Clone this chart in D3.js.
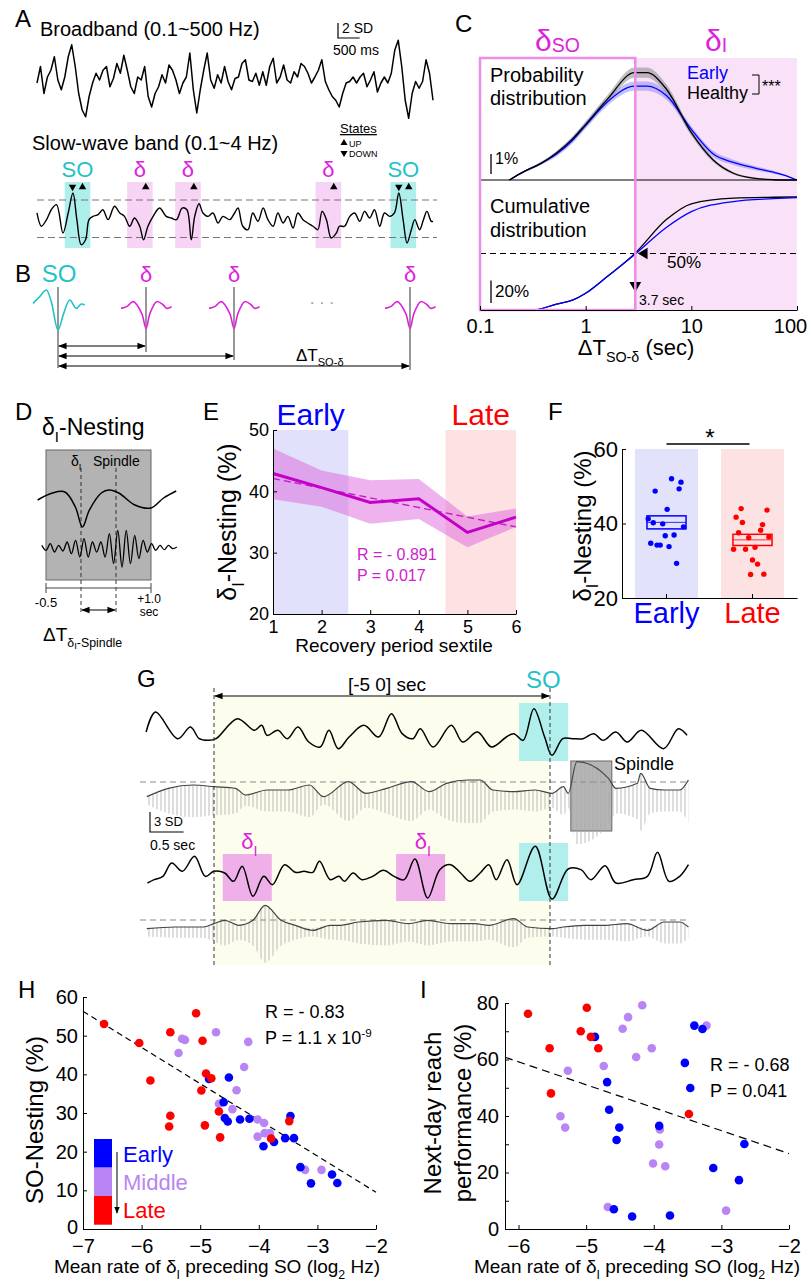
<!DOCTYPE html>
<html>
<head>
<meta charset="utf-8">
<script src="https://cdn.jsdelivr.net/npm/d3@7"></script>
<style>
  body { margin: 0; background: #fff; }
  svg { display: block; }
</style>
</head>
<body>
<script>
'use strict';

const FONT = '"Liberation Sans", Arial, sans-serif';
const CYAN = '#22c3c6';
const MAGENTA = '#dd22dd';
const BLUE = '#0000ff';
const PURPLE = '#b985f5';
const RED = '#ff0000';

// ---------- A: example traces (SD units) ----------
const broadband = [-0.4, 1.8, -1.8, 0.4, 1.3, 3.1, 0, -1.3, 0.4, 3.1, 4.7, 1.8, -1.8, -4.0, -4.9, -2.2,
  -0.4, 0.9, 0, 1.3, 1.8, -0.9, 0.2, 2.2, 0.9, 3.3, 1.3, -0.9, -1.8, 0.4, 0, 1.8, -2.2, -3.6, -1.8,
  -0.9, 0.7, -0.4, 2.0, 1.3, 0, -1.8, -0.4, 0.4, 3.6, -1.3, -4.4, -1.3, 1.3, 3.6, 0, -1.1, 0.7, -0.4,
  1.8, -0.2, -1.3, 0.2, 0.4, 2.2, 2.7, 0, -0.2, 0.9, -0.7, 1.1, -0.7, 1.8, 2.9, -0.4, 0.4, 2.0, 0,
  -0.4, 1.1, 0.4, 2.2, 1.8, 0.9, -0.4, 0.4, 1.3, 2.7, -0.2, -1.3, -2.2, -2.7, -3.6, -1.8, -0.4, -0.2,
  0.4, -0.4, 0.4, 0.9, -0.9, 0, 1.1, -1.6, -0.4, 0.4, -0.4, 0.9, 4.0, 5.3, 1.8, -2.7, -5.1, -1.8,
  -0.2, -1.1, -0.2, 2.7, 0.9, -2.7];
const traceDur = 9.14; // sec
const slowWave = [[0, 0.67], [0.10, -1.1], [0.22, -0.22], [0.33, 1.1], [0.45, 1.78], [0.60, -2], [0.72, 0.67],
  [0.83, 3.33], [0.92, -0.22], [1.02, -3.56], [1.12, -2.9], [1.20, -0.22], [1.29, 0.22], [1.41, 0.44],
  [1.52, 1.1], [1.64, -0.22], [1.79, 1.56], [1.91, 0.67], [2.02, 0.22], [2.14, -1.1], [2.25, 0],
  [2.37, -1.1], [2.46, -2.9], [2.56, -1.1], [2.68, 0.22], [2.83, 1.33], [2.98, 0.22], [3.10, 0],
  [3.22, -0.22], [3.35, 1.33], [3.46, 1.1], [3.56, -2.9], [3.64, 0.22], [3.74, 1.9], [3.83, 0.67],
  [3.95, 0.22], [4.06, 0.67], [4.18, -0.67], [4.29, 0.22], [4.45, -0.22], [4.56, 0.67], [4.64, 1.33],
  [4.75, -1.1], [4.87, -1.56], [4.98, 0.67], [5.10, -0.44], [5.22, 1.33], [5.33, -0.22], [5.45, -1.1],
  [5.56, 0.67], [5.68, -0.67], [5.79, 0.22], [5.91, -1.33], [6.02, 0.67], [6.14, -0.22], [6.25, -0.67],
  [6.37, -1.1], [6.48, -1.56], [6.58, 0.89], [6.68, -0.22], [6.79, -2.67], [6.91, -2], [6.98, -1.1],
  [7.10, -1.1], [7.22, 0.22], [7.33, 0.67], [7.45, -0.44], [7.56, 0.89], [7.68, 0], [7.79, 1.1],
  [7.91, -1.1], [8.02, 0.67], [8.14, 0.22], [8.25, 0.67], [8.35, 3.33], [8.45, -0.22], [8.54, -3.33],
  [8.64, -1.56], [8.72, -0.22], [8.83, -1.56], [8.92, -0.22], [9.0, 0.89], [9.1, -0.44], [9.14, -0.44]];
const swThresholds = [2.4, -2.6];
const eventTypes = ['SO', 'δ', 'δ', 'δ', 'SO'];
const eventStarts = [0.64, 2.08, 3.19, 6.43, 8.16];
const eventWidth = 0.59;
const upTimes = [1.05, 2.51, 3.62, 6.85, 8.58];
const downTimes = [0.82, 8.35];

// ---------- B: schematic ----------
const bEvents = ['SO', 'δ', 'δ', '…', 'δ'];
const soTemplate = [[-250, 0.33], [-183, 1.67], [-117, 3], [-67, 0.67], [0, -5], [57, -1.67], [117, 1],
  [183, -0.67], [233, 0.2], [267, 0]];
const deltaTemplate = [[-250, -0.67], [-193, -0.33], [-127, 0.67], [-43, -1.67], [0, -4.67], [40, -1.67],
  [107, 0.67], [173, 0], [207, -0.67], [257, -0.33]];
const bTargets = [1, 2, 4];

// ---------- C: SO-delta interval distributions ----------
const cProbT = [0.19, 0.26, 0.37, 0.53, 0.76, 1, 1.6, 2.9, 3.8, 5.8, 10, 16, 25, 41, 60, 74, 100];
const cHealthy = [0, 0.32, 0.62, 1.04, 1.6, 2.14, 3.1, 4.13, 4.13, 3.5, 1.82, 0.78, 0.26, 0.06, 0.01, 0, 0];
const cHealthySem = [0, 0.03, 0.05, 0.08, 0.1, 0.12, 0.15, 0.2, 0.2, 0.18, 0.12, 0.08, 0.05, 0.03, 0.01, 0, 0];
const cEarly = [0, 0.32, 0.62, 1.0, 1.55, 2.1, 3.0, 3.61, 3.61, 3.25, 1.95, 1.01, 0.68, 0.45, 0.3, 0.2, 0];
const cEarlySem = [0, 0.03, 0.05, 0.1, 0.12, 0.12, 0.15, 0.18, 0.18, 0.16, 0.12, 0.12, 0.1, 0.08, 0.06, 0.04, 0];
const cCumT = [0.1, 0.32, 0.53, 0.76, 1, 1.6, 2.9, 5.8, 10, 25, 60, 100];
const cCumHealthy = [0, 0, 5.3, 8.9, 14.8, 29.6, 49.7, 80, 94, 99, 99.8, 100];
const cCumEarly = [0, 0, 5.3, 8.9, 14.8, 29.6, 49, 73, 87, 96, 98.5, 99.5];
const cSplit = 2.95;
const cSplitLabel = '3.7 sec';

// ---------- D: nesting schematic ----------
const dSlow = [[-0.62, 0], [-0.41, 1.4], [-0.23, 1.6], [-0.08, -1.4], [0.02, -5.4], [0.12, -2], [0.29, 1.4],
  [0.40, 2], [0.54, 1.4], [0.77, -1], [1.0, -1.6], [1.18, 0.4], [1.36, 1.8]];
const dSpindle = [0.33, -0.67, 0.67, -1, 0.33, -0.8, 1, -1.33, 1.33, -2, 1.67, -2, 1, -1, 1, -2, 2.67,
  -3.33, 3.33, -4, 3.33, -3.33, 2.33, -2.33, 1.33, -1, 0.67, -0.67, 0.33, -0.53, 0.33, -0.33, 0];
const dSpindleSpan = [-0.56, 1.37];
const dWindow = [-0.5, 1.0];
const dMarks = [0, 0.5];

// ---------- E: nesting by sextile ----------
const eSextile = [1, 2, 3, 4, 5, 6];
const eMean = [42.9, 40.6, 38.2, 38.8, 33.3, 35.8];
const eUpper = [47.0, 43.4, 41.8, 42.0, 35.9, 37.2];
const eLower = [38.7, 37.5, 34.7, 35.5, 30.9, 34.2];
const eFit = [42.1, 34.2];
const eEarlySpan = [1, 2.55];
const eLateSpan = [4.55, 6];

// ---------- F: early vs late ----------
const fGroups = ['Early', 'Late'];
const fEarly = [52.0, 51.1, 48.7, 49.3, 43.8, 41.3, 40.2, 39.9, 39.1, 36.7, 36.9, 34.7, 34.2, 34.2, 33.8, 29.3];
const fEarlyJit = [0.08, 0.23, -0.18, 0.2, 0.01, -0.29, -0.21, -0.06, 0.27, -0.02, 0.12, -0.25, -0.15, -0.1, 0.04, 0.16];
const fLate = [44.0, 41.7, 40.3, 43.6, 39.7, 37.5, 36.2, 38.2, 36.4, 33.1, 33.1, 33.6, 30.2, 29.1, 26.3, 26.4];
const fLateJit = [-0.18, -0.26, -0.16, 0.23, 0.16, -0.22, -0.06, 0.13, 0.26, -0.3, -0.11, 0.04, 0, 0.08, -0.03, 0.18];
const fMean = [40.3, 35.6];
const fSem = [1.75, 1.5];

// ---------- G: example SO with preceding delta ----------
const g1Trace = [[-6.01, 0.75], [-5.87, 3.75], [-5.54, -0.25], [-5.35, 1.5], [-5.22, -0.25], [-5.08, -0.5],
  [-4.97, -0.25], [-4.65, 2.75], [-4.40, 1], [-4.29, 1.75], [-4.21, 0.25], [-4.05, 1], [-3.91, -0.25],
  [-3.75, 1.5], [-3.59, -0.75], [-3.42, -1.5], [-3.29, 1], [-3.15, -1.75], [-2.99, 0], [-2.77, 1.75],
  [-2.55, 0], [-2.36, 3.5], [-2.20, 0.5], [-2.04, -0.25], [-1.93, 1.25], [-1.74, -1.5], [-1.47, 1.75],
  [-1.30, -0.75], [-1.08, 0.75], [-0.87, -1.5], [-0.65, 0], [-0.54, 0.5], [-0.40, -0.5], [-0.24, 4.25],
  [-0.08, 0], [0.03, -2.75], [0.19, -0.25], [0.33, -0.25], [0.49, -0.25], [0.65, 0.5], [0.79, -0.5],
  [0.98, 0.75], [1.15, -0.75], [1.36, 1], [1.69, -1.75], [1.91, 1.25], [2.04, 0.25]];
const g2Env = [[-6.0, 0.5], [-5.68, 1.75], [-5.31, 2.25], [-5.0, 2], [-4.68, 1.75], [-4.53, 0.75], [-4.21, 1.5],
  [-3.9, 1.5], [-3.58, 2.25], [-3.37, 0.5], [-3.0, 2.75], [-2.74, 1], [-2.43, 1.75], [-2.06, 2.75],
  [-1.8, 1.25], [-1.54, 2.5], [-1.22, 3], [-1.04, 3], [-0.85, 1.5], [-0.54, 1.25], [-0.22, 1.5], [0.03, 1],
  [0.2, 2], [0.27, 1], [0.4, 5.75], [0.87, 3.25], [0.98, 1.75], [1.3, 2.5], [1.35, 4], [1.49, 1.75],
  [1.7, 1.5], [1.93, 1.5], [2.06, 3]];
const g3Trace = [[-5.99, -1.5], [-5.89, -1], [-5.76, -0.5], [-5.63, 1.5], [-5.47, 0.25], [-5.29, 2.5],
  [-5.13, -0.5], [-5.00, 0.25], [-4.84, 0], [-4.71, -1.25], [-4.58, 1], [-4.42, -3.5], [-4.26, -0.5],
  [-4.13, -1.75], [-3.95, 1.25], [-3.79, 0.1], [-3.66, 0.25], [-3.53, 0.1], [-3.43, 1.75], [-3.27, -1],
  [-3.14, -0.5], [-3.06, -1.25], [-2.93, 0], [-2.80, -1], [-2.64, -0.5], [-2.48, 0.4], [-2.32, -0.5],
  [-2.17, -1], [-2.01, 2.1], [-1.82, -3.75], [-1.64, 0.5], [-1.48, 1.25], [-1.33, 0], [-1.19, -1.25],
  [-1.04, 0], [-0.91, 1.25], [-0.80, -1], [-0.64, 2], [-0.49, -1.75], [-0.22, 4], [0.03, -3.9], [0.27, 0.6],
  [0.46, 0.5], [0.61, -1], [0.82, 1.1], [0.98, -1.5], [1.24, -1], [1.45, -0.5], [1.60, 3.1], [1.77, -1.25],
  [1.93, -0.5], [2.06, 1.25]];
const g4Env = [[-6.0, 0.5], [-5.58, 0.75], [-5.16, 0.75], [-5.0, 1.25], [-4.84, 1.75], [-4.63, 1], [-4.42, 1.75],
  [-4.24, 4], [-4.0, 1.75], [-3.79, 1], [-3.53, 0.25], [-3.27, 1], [-3.14, 1], [-2.85, 1.5], [-2.43, 1.75],
  [-2.11, 1.25], [-1.82, 1.75], [-1.48, 1.25], [-1.12, 1.25], [-0.91, 1], [-0.54, 2], [-0.33, 0.75],
  [0.03, 0.5], [0.2, 0.75], [0.51, 1], [0.82, 1], [1.14, 1.25], [1.45, 0.25], [1.7, 1.5], [1.93, 1.5], [2.06, 0.75]];
const gWindow = [-5, 0];
const gSO = [-0.46, 0.27];
const gDeltaI = [[-4.87, -4.14], [-2.29, -1.56]];
const gSpindle = [0.31, 0.92];

// ---------- H / I: scatter ----------
const hRed = [[-6.64, 53.0], [-6.04, 48.1], [-5.85, 38.4], [-5.51, 50.9], [-5.51, 29.3], [-5.53, 26.5],
  [-5.07, 55.8], [-4.96, 48.7], [-4.98, 35.8], [-4.90, 40.2], [-4.81, 39.0], [-4.92, 26.8], [-4.68, 30.4],
  [-4.66, 23.7], [-3.79, 23.4], [-3.48, 27.9]];
const hBlue = [[-4.85, 38.8], [-4.51, 39.2], [-4.60, 32.8], [-4.58, 28.7], [-4.53, 27.8], [-4.32, 28.3],
  [-4.16, 28.5], [-3.92, 21.4], [-3.74, 22.5], [-3.55, 23.5], [-3.40, 23.5], [-3.46, 29.2], [-3.29, 16.0],
  [-3.11, 11.8], [-2.75, 14.1], [-2.66, 11.9]];
const hPurple = [[-5.31, 49.2], [-5.26, 48.9], [-5.37, 45.5], [-4.73, 50.9], [-4.18, 48.4], [-4.25, 41.9],
  [-4.38, 35.9], [-4.68, 32.4], [-4.45, 31.0], [-4.02, 28.3], [-3.91, 27.4], [-4.02, 23.9], [-3.90, 24.8],
  [-3.81, 24.8], [-3.21, 15.3], [-2.93, 15.3]];
const hFit = [[-7, 56.3], [-2, 9.5]];
const iRed = [[-5.86, 76.2], [-5.54, 64.0], [-5.52, 48.0], [-4.99, 78.3], [-5.08, 70.0], [-4.93, 68.0],
  [-4.82, 64.0], [-3.48, 40.7]];
const iBlue = [[-4.87, 68.0], [-3.54, 58.8], [-3.46, 49.9], [-3.40, 72.0], [-3.28, 70.8], [-4.69, 52.0],
  [-4.66, 42.2], [-4.51, 35.9], [-4.55, 31.5], [-3.92, 36.5], [-2.66, 30.1], [-3.12, 21.6], [-2.74, 17.3],
  [-4.59, 7.0], [-4.32, 4.4], [-3.76, 4.8]];
const iPurple = [[-5.27, 56.0], [-5.38, 39.9], [-5.31, 35.9], [-4.74, 57.7], [-4.46, 70.9], [-4.38, 75.0],
  [-4.17, 79.2], [-4.26, 60.9], [-4.03, 64.0], [-3.22, 72.0], [-3.91, 35.2], [-3.92, 29.9], [-4.01, 23.2],
  [-3.83, 22.2], [-4.68, 7.8], [-2.93, 6.5]];
const iFit = [[-6.2, 60.8], [-2, 26.7]];
const stageNames = ['Early', 'Middle', 'Late'];
const stageColors = [BLUE, PURPLE, RED];

// ======================================================================
const svg = d3.select('body').append('svg')
  .attr('width', 811).attr('height', 1282)
  .attr('font-family', FONT);

const defs = svg.append('defs');
defs.append('marker').attr('id', 'arr')
  .attr('viewBox', '0 0 10 10').attr('refX', 9).attr('refY', 5)
  .attr('markerWidth', 7).attr('markerHeight', 7)
  .attr('orient', 'auto-start-reverse')
  .append('path').attr('d', 'M0,1L10,5L0,9z').attr('fill', '#000');
const pat = defs.append('pattern').attr('id', 'carrier')
  .attr('patternUnits', 'userSpaceOnUse').attr('width', 4).attr('height', 10);
pat.append('line').attr('x1', 1).attr('x2', 1).attr('y1', 0).attr('y2', 10)
  .attr('stroke', '#a9a9a9').attr('stroke-width', 0.8);

function txt(x, y, s, size, fill = '#000', anchor = 'start') {
  return svg.append('text').attr('x', x).attr('y', y).attr('font-size', size)
    .attr('fill', fill).attr('text-anchor', anchor).text(s);
}

// parts: [string, level]; 0 normal, 1 subscript, 2 sub-subscript, 3 low-offset subscript, -1 superscript
function rich(x, y, parts, size, fill = '#000', anchor = 'start', transform = null) {
  const t = svg.append('text').attr('x', x).attr('y', y).attr('font-size', size)
    .attr('fill', fill).attr('text-anchor', anchor);
  if (transform) t.attr('transform', transform);
  let cur = 0;
  for (const [s, lvl] of parts) {
    const off = lvl === 1 ? size * 0.3 : lvl === 2 ? size * 0.42 : lvl === 3 ? size * 0.04
      : lvl === -1 ? -size * 0.4 : 0;
    const fs = lvl === 0 ? size : lvl === 2 ? size * 0.5 : size * 0.65;
    t.append('tspan').attr('dy', off - cur).attr('font-size', fs).text(s);
    cur = off;
  }
  return t;
}

function vlabel(cx, cy, parts, size) {
  return rich(0, 0, parts, size, '#000', 'middle', `translate(${cx},${cy}) rotate(-90)`);
}

function styleAxis(g, size) {
  g.attr('font-family', FONT).attr('font-size', size);
  g.selectAll('.domain').attr('stroke', '#000');
  g.selectAll('.tick line').attr('stroke', '#000');
  g.selectAll('.tick text').attr('fill', '#000');
  return g;
}

function hline(x1, x2, y, stroke = '#000', dash = null, w = 1) {
  const l = svg.append('line').attr('x1', x1).attr('x2', x2).attr('y1', y).attr('y2', y)
    .attr('stroke', stroke).attr('stroke-width', w);
  if (dash) l.attr('stroke-dasharray', dash);
  return l;
}
function vline(x, y1, y2, stroke = '#000', dash = null, w = 1) {
  const l = svg.append('line').attr('x1', x).attr('x2', x).attr('y1', y1).attr('y2', y2)
    .attr('stroke', stroke).attr('stroke-width', w);
  if (dash) l.attr('stroke-dasharray', dash);
  return l;
}

// panel letters
[['A', 15, 27], ['B', 15, 282], ['C', 455, 32], ['D', 15, 420], ['E', 203, 420],
 ['F', 548, 420], ['G', 137, 687], ['H', 18, 998], ['I', 420, 998]]
  .forEach(([s, x, y]) => txt(x, y, s, 24));

// ======================= A =======================
const xA = d3.scaleLinear().domain([0, traceDur]).range([37, 433]);
const yBB = d3.scaleLinear().domain([-1, 1]).range([87.5, 72.5]);
const ySW = d3.scaleLinear().domain([-1, 1]).range([225.5, 210.5]);

txt(40, 36, 'Broadband (0.1~500 Hz)', 20);
const xBB = d3.scaleLinear().domain([0, broadband.length - 1]).range(xA.range());
svg.append('path').datum(broadband)
  .attr('d', d3.line().x((d, i) => xBB(i)).y(d => yBB(d)))
  .attr('fill', 'none').attr('stroke', '#000').attr('stroke-width', 1.5).attr('stroke-linejoin', 'round');

// scale bar
const sbx = 338, sby = 38;
svg.append('path')
  .attr('d', `M${sbx},${yBB(2) - yBB(0) + sby}V${sby}H${sbx + xA(0.5) - xA(0)}`)
  .attr('fill', 'none').attr('stroke', '#000').attr('stroke-width', 1.2);
txt(342, 33, '2 SD', 14);
txt(333, 55, '500 ms', 14);

txt(32, 150, 'Slow-wave band (0.1~4 Hz)', 20);
txt(340, 133, 'States', 13).attr('text-decoration', 'underline');
svg.append('path').attr('d', d3.symbol(d3.symbolTriangle, 22)()).attr('transform', 'translate(344,143)');
txt(349, 147, 'UP', 9);
svg.append('path').attr('d', d3.symbol(d3.symbolTriangle, 22)()).attr('transform', 'translate(344,153) rotate(180)');
txt(349, 157, 'DOWN', 9);

eventStarts.forEach((s, i) => {
  const so = eventTypes[i] === 'SO';
  svg.append('rect').attr('x', xA(s)).attr('y', 182)
    .attr('width', xA(s + eventWidth) - xA(s)).attr('height', 66)
    .attr('fill', so ? '#aeefec' : '#f7d3f5');
  txt(xA(s + eventWidth / 2), 177, eventTypes[i], 22, so ? CYAN : MAGENTA, 'middle');
});
upTimes.forEach(t => svg.append('path').attr('d', d3.symbol(d3.symbolTriangle, 24)())
  .attr('transform', `translate(${xA(t)},187)`));
downTimes.forEach(t => svg.append('path').attr('d', d3.symbol(d3.symbolTriangle, 24)())
  .attr('transform', `translate(${xA(t)},187) rotate(180)`));
swThresholds.forEach(v => hline(37, 437, ySW(v), '#777', '7,4', 1.1));
svg.append('path').datum(slowWave)
  .attr('d', d3.line().x(d => xA(d[0])).y(d => ySW(d[1])).curve(d3.curveCatmullRom))
  .attr('fill', 'none').attr('stroke', '#000').attr('stroke-width', 1.4);

// ======================= B =======================
const xB = d3.scalePoint().domain(d3.range(bEvents.length)).range([58, 410]);
const xWave = d3.scaleLinear().domain([0, 100]).range([0, 10]);
const yWave = d3.scaleLinear().domain([0, 1]).range([305, 300]);
const lineEnds = [368, 352, 360, null, 370];
bEvents.forEach((e, i) => {
  const cx = xB(i);
  if (e === '…') {
    txt(cx, 308, '· · ·', 16, '#999', 'middle');
    return;
  }
  const so = e === 'SO';
  txt(cx + (so ? 1 : 0), 282, e, so ? 24 : 22, so ? CYAN : MAGENTA, 'middle');
  vline(cx, 287, lineEnds[i], '#333', null, 1);
  svg.append('path').datum(so ? soTemplate : deltaTemplate)
    .attr('d', d3.line().x(d => cx + xWave(d[0])).y(d => yWave(d[1])).curve(d3.curveCatmullRom))
    .attr('fill', 'none').attr('stroke', so ? CYAN : MAGENTA).attr('stroke-width', 1.6);
});
bTargets.forEach((k, j) => {
  svg.append('line').attr('x1', xB(0) + 1).attr('x2', xB(k) - 1)
    .attr('y1', 346 + j * 10).attr('y2', 346 + j * 10)
    .attr('stroke', '#000').attr('stroke-width', 1.2)
    .attr('marker-start', 'url(#arr)').attr('marker-end', 'url(#arr)');
});
rich(296, 361, [['ΔT', 0], ['SO-δ', 1]], 17);

// ======================= C =======================
const xC = d3.scaleLog().domain([0.1, 100]).range([480, 797]);
const yP = d3.scaleLinear().domain([0, 4.5]).range([180, 63]);
const yCum = d3.scaleLinear().domain([0, 100]).range([310, 197]);
const cTop = 58, cBot = 310;

svg.append('rect').attr('x', xC(cSplit)).attr('y', cTop)
  .attr('width', xC(100) - xC(cSplit)).attr('height', cBot - cTop).attr('fill', '#f9e1f8');
rich(535, 51, [['δ', 0], ['SO', 3]], 30, MAGENTA);
rich(705, 51, [['δ', 0], ['I', 3]], 30, MAGENTA);

const probArea = (vals, sem) => d3.area()
  .x((d, i) => xC(cProbT[i]))
  .y0((d, i) => yP(Math.max(0, vals[i] - sem[i])))
  .y1((d, i) => yP(vals[i] + sem[i]))
  .curve(d3.curveMonotoneX)(vals);
const probLine = vals => d3.line().x((d, i) => xC(cProbT[i])).y(d => yP(d)).curve(d3.curveMonotoneX)(vals);
svg.append('path').attr('d', probArea(cHealthy, cHealthySem)).attr('fill', '#8c8c8c').attr('opacity', 0.55);
svg.append('path').attr('d', probArea(cEarly, cEarlySem)).attr('fill', '#7d7df0').attr('opacity', 0.45);
svg.append('path').attr('d', probLine(cEarly)).attr('fill', 'none').attr('stroke', BLUE).attr('stroke-width', 1.3);
svg.append('path').attr('d', probLine(cHealthy)).attr('fill', 'none').attr('stroke', '#000').attr('stroke-width', 1.3);

const cumLine = vals => d3.line().x((d, i) => xC(cCumT[i])).y(d => yCum(d)).curve(d3.curveMonotoneX)(vals);
svg.append('path').attr('d', cumLine(cCumHealthy)).attr('fill', 'none').attr('stroke', '#000').attr('stroke-width', 1.3);
svg.append('path').attr('d', cumLine(cCumEarly)).attr('fill', 'none').attr('stroke', BLUE).attr('stroke-width', 1.3);

hline(480, 797, 180, '#000', null, 1);
hline(480, 797, yCum(50), '#000', '6,4', 1.2);
vline(xC(cSplit), cTop, yCum(50), '#000', '6,4', 1.2);
vline(xC(cSplit), yCum(50), cBot, '#000', null, 1.2);
svg.append('path').attr('d', d3.symbol(d3.symbolTriangle, 60)())
  .attr('transform', `translate(${xC(cSplit)},${yCum(50) + 32}) rotate(180)`);
svg.append('path').attr('d', d3.symbol(d3.symbolTriangle, 55)())
  .attr('transform', `translate(${xC(cSplit) + 9},${yCum(50)}) rotate(-90)`);
svg.append('rect').attr('x', 480).attr('y', cTop)
  .attr('width', xC(cSplit) - 480).attr('height', cBot - cTop)
  .attr('fill', 'none').attr('stroke', '#ee8de9').attr('stroke-width', 2.5);

txt(490, 82, 'Probability', 20);
txt(490, 105, 'distribution', 20);
txt(490, 213, 'Cumulative', 20);
txt(490, 237, 'distribution', 20);
txt(687, 79, 'Early', 18, BLUE);
txt(687, 99, 'Healthy', 18);
svg.append('path').attr('d', 'M752,75H759V94H752').attr('fill', 'none').attr('stroke', '#000');
txt(762, 92, '***', 16);
vline(491, yP(1), yP(0) - 6, '#000', null, 1.3);
txt(495, 164, '1%', 16);
vline(491, yCum(0) - 7 - (yCum(0) - yCum(20)), yCum(0) - 7, '#000', null, 1.3);
txt(495, 297, '20%', 17);
txt(667, 268, '50%', 17);
txt(639, 305, cSplitLabel, 14);

const cAxis = svg.append('g').attr('transform', `translate(0,${cBot})`)
  .call(d3.axisBottom(xC).tickValues([0.1, 1, 10, 100]).tickFormat(d3.format('~g'))
    .tickSize(-4).tickSizeOuter(0).tickPadding(9));
styleAxis(cAxis, 20);
cAxis.selectAll('.tick text').filter(d => d === 100).attr('dx', -7);
rich(636, 355, [['ΔT', 0], ['SO-δ', 1], [' (sec)', 0]], 22, '#000', 'middle');

// ======================= D =======================
const xD = d3.scaleLinear().domain(dWindow).range([46, 151]);
const yD1 = d3.scaleLinear().domain([0, 1]).range([500, 495]);
const yD2 = d3.scaleLinear().domain([0, 1]).range([547, 542]);
rich(42, 435, [['δ', 0], ['I', 1], ['-Nesting', 0]], 23);
svg.append('rect').attr('x', xD(dWindow[0])).attr('y', 450)
  .attr('width', xD(dWindow[1]) - xD(dWindow[0])).attr('height', 130)
  .attr('fill', '#b3b3b3').attr('stroke', '#666').attr('stroke-width', 1);
dMarks.forEach(t => vline(xD(t), 468, 615, '#222', '4,3', 0.9));
rich(71, 466, [['δ', 0], ['I', 1]], 14);
txt(93, 466, 'Spindle', 14);
svg.append('path').datum(dSlow)
  .attr('d', d3.line().x(d => xD(d[0])).y(d => yD1(d[1])).curve(d3.curveCatmullRom))
  .attr('fill', 'none').attr('stroke', '#000').attr('stroke-width', 1.5);
const xDs = d3.scaleLinear().domain([0, dSpindle.length - 1]).range(dSpindleSpan.map(xD));
svg.append('path').datum(dSpindle)
  .attr('d', d3.line().x((d, i) => xDs(i)).y(d => yD2(d)).curve(d3.curveCatmullRom))
  .attr('fill', 'none').attr('stroke', '#000').attr('stroke-width', 1.3);
hline(xD(dWindow[0]), xD(dWindow[1]), 588, '#444', null, 1);
dWindow.forEach(t => vline(xD(t), 583, 593, '#444', null, 1));
txt(xD(dWindow[0]), 607, '-0.5', 13, '#000', 'middle');
txt(xD(dWindow[1]) - 2, 603, '+1.0', 12, '#000', 'middle');
txt(xD(dWindow[1]) - 2, 616, 'sec', 12, '#000', 'middle');
svg.append('line').attr('x1', xD(dMarks[0]) + 1).attr('x2', xD(dMarks[1]) - 1)
  .attr('y1', 610).attr('y2', 610).attr('stroke', '#000').attr('stroke-width', 1.2)
  .attr('marker-start', 'url(#arr)').attr('marker-end', 'url(#arr)');
rich(43, 641, [['ΔT', 0], ['δ', 1], ['I', 2], ['-Spindle', 1]], 19);

// ======================= E =======================
const xE = d3.scaleLinear().domain([1, 6]).range([273, 516]);
const yE = d3.scaleLinear().domain([20, 50]).range([614, 430]);
svg.append('rect').attr('x', xE(eEarlySpan[0])).attr('y', yE(50))
  .attr('width', xE(eEarlySpan[1]) - xE(eEarlySpan[0])).attr('height', yE(20) - yE(50)).attr('fill', '#e1e1fb');
svg.append('rect').attr('x', xE(eLateSpan[0])).attr('y', yE(50))
  .attr('width', xE(eLateSpan[1]) - xE(eLateSpan[0])).attr('height', yE(20) - yE(50)).attr('fill', '#fde1e3');
txt((xE(eEarlySpan[0]) + xE(eEarlySpan[1])) / 2, 425, 'Early', 30, BLUE, 'middle');
txt((xE(eLateSpan[0]) + xE(eLateSpan[1])) / 2, 425, 'Late', 30, RED, 'middle');
svg.append('path').datum(eSextile)
  .attr('d', d3.area().x(d => xE(d)).y0((d, i) => yE(eLower[i])).y1((d, i) => yE(eUpper[i])))
  .attr('fill', '#dd66dd').attr('opacity', 0.5);
svg.append('line').attr('x1', xE(1)).attr('x2', xE(6)).attr('y1', yE(eFit[0])).attr('y2', yE(eFit[1]))
  .attr('stroke', '#c41cc8').attr('stroke-width', 1.4).attr('stroke-dasharray', '7,4');
svg.append('path').datum(eSextile)
  .attr('d', d3.line().x(d => xE(d)).y((d, i) => yE(eMean[i])))
  .attr('fill', 'none').attr('stroke', '#c400c8').attr('stroke-width', 3);
const eX = svg.append('g').attr('transform', `translate(0,${yE(20)})`)
  .call(d3.axisBottom(xE).ticks(6).tickFormat(d3.format('d')).tickSize(-4).tickSizeOuter(0).tickPadding(6));
styleAxis(eX, 18);
const eY = svg.append('g').attr('transform', `translate(${xE(1)},0)`)
  .call(d3.axisLeft(yE).tickValues([20, 30, 40, 50]).tickSize(-4).tickSizeOuter(0).tickPadding(4));
styleAxis(eY, 18);
txt(394, 652, 'Recovery period sextile', 19, '#000', 'middle');
vlabel(236, 522, [['δ', 0], ['I', 1], ['-Nesting (%)', 0]], 25);
txt(357, 560, 'R = - 0.891', 16, '#cc22cc');
txt(357, 581, 'P = 0.017', 16, '#cc22cc');

// ======================= F =======================
const xF = d3.scaleBand().domain(fGroups).range([622, 797]).paddingInner(0.267).paddingOuter(0.151);
const yF = d3.scaleLinear().domain([20, 60]).range([598, 449]);
const fVals = [fEarly, fLate], fJit = [fEarlyJit, fLateJit];
const fCol = [BLUE, RED], fBg = ['#e2e2fb', '#fde2e4'];
fGroups.forEach((g, k) => {
  const x0 = xF(g), bw = xF.bandwidth(), cx = x0 + bw / 2;
  svg.append('rect').attr('x', x0).attr('y', yF(60)).attr('width', bw).attr('height', yF(20) - yF(60)).attr('fill', fBg[k]);
  svg.append('rect').attr('x', cx - bw * 0.31).attr('y', yF(fMean[k] + fSem[k]))
    .attr('width', bw * 0.62).attr('height', yF(fMean[k] - fSem[k]) - yF(fMean[k] + fSem[k]))
    .attr('fill', 'none').attr('stroke', fCol[k]).attr('stroke-width', 1.5);
  hline(cx - bw * 0.31, cx + bw * 0.31, yF(fMean[k]), fCol[k], null, 0.8);
  svg.append('g').selectAll('circle').data(fVals[k]).join('circle')
    .attr('cx', (d, i) => cx + fJit[k][i] * bw).attr('cy', d => yF(d)).attr('r', 2.7).attr('fill', fCol[k]);
  txt(cx, 623, g, 29, fCol[k], 'middle');
});
const fX = svg.append('g').attr('transform', `translate(0,${yF(20)})`)
  .call(d3.axisBottom(xF).tickFormat(() => '').tickSize(-4).tickSizeOuter(0));
styleAxis(fX, 12);
fX.selectAll('.tick').attr('transform', d => `translate(${xF(d) + xF.bandwidth() / 2},0)`);
const fY = svg.append('g').attr('transform', 'translate(622,0)')
  .call(d3.axisLeft(yF).tickValues([20, 40, 60]).tickSize(-4).tickSizeOuter(0).tickPadding(4));
styleAxis(fY, 22);
hline(xF('Early') + xF.bandwidth() / 2, xF('Late') + xF.bandwidth() / 2 - 3, 444, '#000', null, 1.3);
txt(710, 446, '*', 24, '#000', 'middle');
vlabel(591, 526, [['δ', 0], ['I', 1], ['-Nesting (%)', 0]], 24);

// ======================= G =======================
const xG = d3.scaleLinear().domain(gWindow).range([214, 550]);
const sdG = 6.67;
const gTop = 697, gBottom = 965;
svg.append('rect').attr('x', xG(gWindow[0])).attr('y', gTop)
  .attr('width', xG(gWindow[1]) - xG(gWindow[0])).attr('height', gBottom - gTop).attr('fill', '#fdfdee');
[[703, 761], [843, 901]].forEach(([a, b]) => svg.append('rect')
  .attr('x', xG(gSO[0])).attr('y', a).attr('width', xG(gSO[1]) - xG(gSO[0])).attr('height', b - a)
  .attr('fill', '#b0efec'));
gDeltaI.forEach(([a, b]) => {
  svg.append('rect').attr('x', xG(a)).attr('y', 854).attr('width', xG(b) - xG(a)).attr('height', 47)
    .attr('fill', '#efb0ea');
  rich(xG((a + b) / 2) - 6, 849, [['δ', 0], ['I', 1]], 22, MAGENTA);
});
svg.append('rect').attr('x', xG(gSpindle[0])).attr('y', 761)
  .attr('width', xG(gSpindle[1]) - xG(gSpindle[0])).attr('height', 70)
  .attr('fill', '#b5b5b5').attr('stroke', '#666').attr('stroke-width', 1);
txt(614, 770, 'Spindle', 18);
hline(140, 690, 782, '#888', '6,4', 1);
hline(140, 690, 920, '#888', '6,4', 1);

function slowTrace(data, center) {
  svg.append('path').datum(data)
    .attr('d', d3.line().x(d => xG(d[0])).y(d => center - d[1] * sdG).curve(d3.curveCatmullRom))
    .attr('fill', 'none').attr('stroke', '#000').attr('stroke-width', 1.5);
}
function spindleTrace(env, center) {
  // band-passed carrier drawn as a hatched envelope, envelope line on top
  svg.append('path').datum(env)
    .attr('d', d3.area().x(d => xG(d[0]))
      .y0(d => center + Math.max(d[1], 0.6) * sdG * 1.15)
      .y1(d => center - Math.max(d[1], 0.6) * sdG)
      .curve(d3.curveMonotoneX))
    .attr('fill', 'url(#carrier)');
  svg.append('path').datum(env)
    .attr('d', d3.line().x(d => xG(d[0])).y(d => center - d[1] * sdG).curve(d3.curveMonotoneX))
    .attr('fill', 'none').attr('stroke', '#444').attr('stroke-width', 1.2);
}
slowTrace(g1Trace, 737);
spindleTrace(g2Env, 800);
slowTrace(g3Trace, 873);
spindleTrace(g4Env, 932);

gWindow.forEach(t => vline(xG(t), 688, gBottom, '#333', '4,3', 1));
svg.append('line').attr('x1', xG(gWindow[0]) + 1).attr('x2', xG(gWindow[1]) - 1)
  .attr('y1', 696).attr('y2', 696).attr('stroke', '#000').attr('stroke-width', 1.2)
  .attr('marker-start', 'url(#arr)').attr('marker-end', 'url(#arr)');
txt(387, 691, '[-5 0] sec', 19, '#000', 'middle');
txt(xG(-0.1), 688, 'SO', 24, CYAN, 'middle');
svg.append('path').attr('d', `M150,${832 - 3 * sdG}V832H${150 + xG(0.5) - xG(0)}`)
  .attr('fill', 'none').attr('stroke', '#000').attr('stroke-width', 1.1);
txt(154, 826, '3 SD', 13);
txt(150, 850, '0.5 sec', 14);

// ======================= H =======================
const xH = d3.scaleLinear().domain([-7, -2]).range([83, 376]);
const yH = d3.scaleLinear().domain([0, 60]).range([1229, 997]);
const hX = svg.append('g').attr('transform', `translate(0,${yH(0)})`)
  .call(d3.axisBottom(xH).ticks(5).tickSize(-4).tickSizeOuter(0).tickPadding(10).tickFormat(d3.format('d')));
styleAxis(hX, 20);
const hY = svg.append('g').attr('transform', `translate(${xH(-7)},0)`)
  .call(d3.axisLeft(yH).tickValues(d3.range(0, 61, 10)).tickSize(-4).tickSizeOuter(0).tickPadding(5));
styleAxis(hY, 20);
hY.selectAll('.tick text').filter(d => d === 0).attr('dy', '0.2em');
svg.append('line').attr('x1', xH(hFit[0][0])).attr('y1', yH(hFit[0][1]))
  .attr('x2', xH(hFit[1][0])).attr('y2', yH(hFit[1][1]))
  .attr('stroke', '#000').attr('stroke-width', 1.2).attr('stroke-dasharray', '6,4');
[[hPurple, PURPLE], [hBlue, BLUE], [hRed, RED]].forEach(([pts, c]) =>
  svg.append('g').selectAll('circle').data(pts).join('circle')
    .attr('cx', d => xH(d[0])).attr('cy', d => yH(d[1])).attr('r', 4.3).attr('fill', c));
txt(265, 1018, 'R = - 0.83', 18);
rich(265, 1044, [['P = 1.1 x 10', 0], ['-9', -1]], 18);
stageNames.forEach((s, k) => {
  svg.append('rect').attr('x', 94).attr('y', 1139 + k * 28.5).attr('width', 18).attr('height', 28.7)
    .attr('fill', stageColors[k]);
  txt(123, 1162 + k * 28, s, 22, stageColors[k]);
});
svg.append('line').attr('x1', 117).attr('x2', 117).attr('y1', 1152).attr('y2', 1213)
  .attr('stroke', '#000').attr('stroke-width', 1).attr('marker-end', 'url(#arr)');
vlabel(43, 1120, [['SO-Nesting (%)', 0]], 24);
rich(217, 1273, [['Mean rate of ', 0], ['δ', 0], ['I', 1], [' preceding SO (log', 0], ['2', 1], [' Hz)', 0]], 19, '#000', 'middle');

// ======================= I =======================
const xI = d3.scaleLinear().domain([-6.2, -2]).range([505, 789]);
const yI = d3.scaleLinear().domain([0, 80]).range([1229, 1003]);
const iX = svg.append('g').attr('transform', `translate(0,${yI(0)})`)
  .call(d3.axisBottom(xI).tickValues([-6, -5, -4, -3, -2]).tickSize(-4).tickSizeOuter(0).tickPadding(10).tickFormat(d3.format('d')));
styleAxis(iX, 20);
const iY = svg.append('g').attr('transform', `translate(${xI(-6.2)},0)`)
  .call(d3.axisLeft(yI).tickValues(d3.range(0, 81, 10)).tickSize(-4).tickSizeOuter(0).tickPadding(6)
    .tickFormat(d => d % 20 === 0 ? d : ''));
styleAxis(iY, 20);
svg.append('line').attr('x1', xI(iFit[0][0])).attr('y1', yI(iFit[0][1]))
  .attr('x2', xI(iFit[1][0])).attr('y2', yI(iFit[1][1]))
  .attr('stroke', '#000').attr('stroke-width', 1.2).attr('stroke-dasharray', '8,5');
[[iPurple, PURPLE], [iBlue, BLUE], [iRed, RED]].forEach(([pts, c]) =>
  svg.append('g').selectAll('circle').data(pts).join('circle')
    .attr('cx', d => xI(d[0])).attr('cy', d => yI(d[1])).attr('r', 4.3).attr('fill', c));
txt(710, 1071, 'R = - 0.68', 18);
txt(710, 1097, 'P = 0.041', 18);
vlabel(441, 1113, [['Next-day reach', 0]], 24);
vlabel(471, 1113, [['performance (%)', 0]], 24);
rich(637, 1273, [['Mean rate of ', 0], ['δ', 0], ['I', 1], [' preceding SO (log', 0], ['2', 1], [' Hz)', 0]], 19, '#000', 'middle');
</script>
</body>
</html>
